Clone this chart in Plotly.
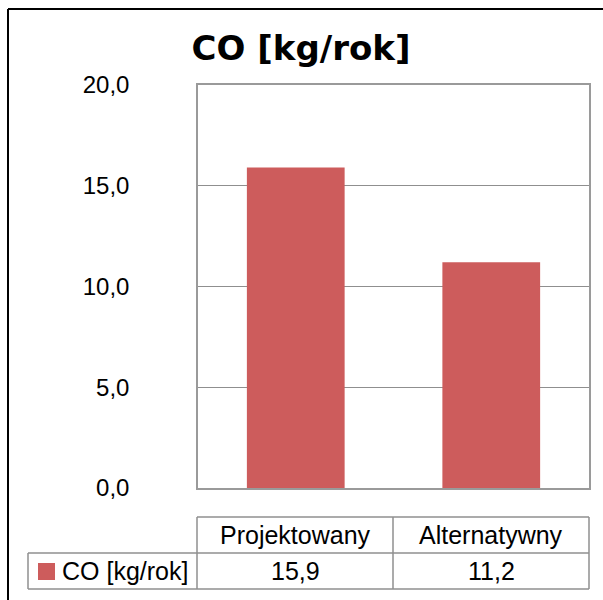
import plotly.graph_objects as go

# ---- data ----
categories = ["Projektowany", "Alternatywny"]
series_name = "CO [kg/rok]"
values = [15.9, 11.2]
y_ticks = [0, 5, 10, 15, 20]

W, H = 603, 600
L, R, T, B = 198, 589, 85, 488  # plot area in pixels

def px(x):
    return (x - L) / (R - L)

def py(y):
    return (B - y) / (B - T)

BAR_COLOR = "#CD5C5C"
GRID = "#8f8f8f"
TABLE = "#8f8f8f"
FONT = "Liberation Sans, Arial, sans-serif"

fig = go.Figure()
fig.add_trace(go.Bar(
    x=categories, y=values, width=0.5,
    marker=dict(color=BAR_COLOR, line=dict(width=0)),
    name=series_name, showlegend=False, hoverinfo="x+y",
))

fig.update_layout(
    width=W, height=H,
    margin=dict(l=L, r=W - R, t=T, b=H - B),
    paper_bgcolor="white", plot_bgcolor="white",
    separators=", ",
    showlegend=False,
    title=dict(text="<b>" + series_name + "</b>", x=(301) / W, xanchor="center",
               y=1 - 48 / H, yanchor="middle",
               font=dict(family="DejaVu Sans, sans-serif", size=34, color="black")),
    font=dict(family=FONT, color="black"),
)
fig.update_xaxes(
    type="category", range=[-0.5, 1.5], showticklabels=False, ticks="",
    showline=True, linecolor="#9a9a9a", linewidth=1.5, mirror=True,
    showgrid=False, zeroline=False, fixedrange=True,
)
fig.update_yaxes(
    range=[0, 20], tickvals=y_ticks, tickformat=".1f",
    showline=True, linecolor="#9a9a9a", linewidth=1.5, mirror=True,
    showgrid=True, gridcolor=GRID, gridwidth=1, zeroline=False,
    ticks="", ticklabelstandoff=62,
    tickfont=dict(family=FONT, size=24, color="black"), fixedrange=True,
)

shapes = []

def line(x0, y0, x1, y1, color, width):
    shapes.append(dict(type="line", xref="paper", yref="paper",
                       x0=px(x0), x1=px(x1), y0=py(y0), y1=py(y1),
                       line=dict(color=color, width=width)))

# outer chart border (only top/left visible in crop)
line(8, 9, 603, 9, "black", 2)
line(8, 9, 8, 600, "black", 2)

# table lines
line(197, 517, 589, 517, TABLE, 1.5)
line(28, 553, 589, 553, TABLE, 1.5)
line(28, 589, 589, 589, TABLE, 1.5)
line(28, 553, 28, 589, TABLE, 1.5)
line(197, 517, 197, 589, TABLE, 1.5)
line(393, 517, 393, 589, TABLE, 1.5)
line(589, 517, 589, 589, TABLE, 1.5)

# legend key
shapes.append(dict(type="rect", xref="paper", yref="paper",
                   x0=px(38), x1=px(55), y0=py(580), y1=py(563),
                   fillcolor=BAR_COLOR, line=dict(width=0)))
fig.update_layout(shapes=shapes)

ann = []
for c, v in zip(categories, values):
    ann.append(dict(x=c, xref="x", y=py(535), yref="paper", text=c, showarrow=False,
                    xanchor="center", yanchor="middle",
                    font=dict(family=FONT, size=25, color="black")))
    ann.append(dict(x=c, xref="x", y=py(571), yref="paper",
                    text=f"{v:.1f}".replace(".", ","), showarrow=False,
                    xanchor="center", yanchor="middle",
                    font=dict(family=FONT, size=25, color="black")))
ann.append(dict(x=px(60), xref="paper", y=py(571), yref="paper", text=series_name,
                showarrow=False, xanchor="left", yanchor="middle",
                font=dict(family=FONT, size=25, color="black")))
fig.update_layout(annotations=ann)

fig.write_html(
    "out.html", config={"displayModeBar": False},
    post_script="document.body.style.margin='0';"
                "document.body.style.overflow='hidden';"
                "document.documentElement.style.overflow='hidden';",
)
